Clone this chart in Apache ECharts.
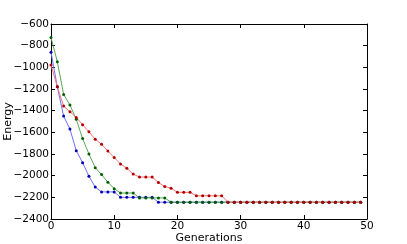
<!DOCTYPE html>
<html><head><meta charset="utf-8">
<script src="https://cdn.jsdelivr.net/npm/echarts@6/dist/echarts.min.js"></script>
<style>html,body{margin:0;padding:0;background:#fff}#c{width:407px;height:244px}</style>
</head><body><div id="c"></div>
<script>
const generations = Array.from({length: 50}, (_, i) => i);
const xTicks = [0, 10, 20, 30, 40, 50];
const yTicks = [-2400, -2200, -2000, -1800, -1600, -1400, -1200, -1000, -800, -600];
const blueSeries = [-860, -1180, -1450, -1570, -1770, -1880, -2005, -2105, -2150, -2150, -2150,
  -2200, -2200, -2200, -2200, -2200, -2200,
  -2245, -2245, -2245, -2245, -2245, -2245, -2245, -2245, -2245, -2245, -2245, -2245, -2245,
  -2245, -2245, -2245, -2245, -2245, -2245, -2245, -2245, -2245, -2245,
  -2245, -2245, -2245, -2245, -2245, -2245, -2245, -2245, -2245, -2245];
const greenSeries = [-725, -948, -1250, -1348, -1480, -1658, -1800, -1926, -1990, -2060, -2120,
  -2160, -2160, -2160, -2205, -2205, -2205, -2205, -2205,
  -2245, -2245, -2245, -2245, -2245, -2245, -2245, -2245, -2245, -2245, -2245,
  -2245, -2245, -2245, -2245, -2245, -2245, -2245, -2245, -2245, -2245,
  -2245, -2245, -2245, -2245, -2245, -2245, -2245, -2245, -2245, -2245];
const redSeries = [-978, -1180, -1357, -1410, -1463, -1530, -1595, -1664, -1710, -1772, -1833,
  -1892, -1932, -1985, -2013, -2013, -2013, -2063, -2100, -2115, -2154, -2154, -2154,
  -2186, -2186, -2186, -2186, -2186,
  -2245, -2245, -2245, -2245, -2245, -2245, -2245, -2245, -2245, -2245,
  -2245, -2245, -2245, -2245, -2245, -2245, -2245, -2245, -2245, -2245, -2245, -2245];

const font = 'DejaVu Sans';
function mk(name, vals, line, mark) {
  return {
    name, type: 'line', xAxisIndex: 0, yAxisIndex: 0,
    data: generations.map((g, i) => [g, vals[i]]),
    symbol: 'circle', symbolSize: 3, showSymbol: true,
    lineStyle: {color: line, width: 1},
    itemStyle: {color: mark, borderWidth: 0},
    animation: false, z: 3
  };
}
const chart = echarts.init(document.getElementById('c'));
const tickIn = {show: true, inside: true, length: 4, lineStyle: {color: '#000', width: 1}};
chart.setOption({
  backgroundColor: '#fff',
  animation: false,
  grid: {left: 51, right: 40, top: 24, bottom: 25, show: false, containLabel: false, outerBoundsMode: 'none'},
  xAxis: [
    {type: 'value', min: 0, max: 50, interval: 10, position: 'bottom',
     name: 'Generations', nameLocation: 'middle', nameGap: 14, nameMoveOverlap: false,
     nameTextStyle: {fontFamily: font, fontSize: 11, color: '#000'},
     axisLine: {show: true, onZero: false, lineStyle: {color: '#000', width: 1}},
     axisTick: tickIn, splitLine: {show: false},
     axisLabel: {fontFamily: font, fontSize: 10.5, color: '#000', margin: 2,
       formatter: v => xTicks.includes(v) ? String(v) : ''}},
    {type: 'value', min: 0, max: 50, interval: 10, position: 'top',
     axisLine: {show: true, onZero: false, lineStyle: {color: '#000', width: 1}},
     axisTick: tickIn, splitLine: {show: false}, axisLabel: {show: false}}
  ],
  yAxis: [
    {type: 'value', min: -2400, max: -600, interval: 200, position: 'left',
     name: 'Energy', nameLocation: 'middle', nameGap: 37, nameRotate: 90, nameMoveOverlap: false,
     nameTextStyle: {fontFamily: font, fontSize: 11, color: '#000'},
     axisLine: {show: true, onZero: false, lineStyle: {color: '#000', width: 1}},
     axisTick: tickIn, splitLine: {show: false},
     axisLabel: {fontFamily: font, fontSize: 10.5, color: '#000', margin: 2,
       formatter: v => yTicks.includes(v) ? String(v).replace('-', '\u2212') : ''}},
    {type: 'value', min: -2400, max: -600, interval: 200, position: 'right',
     axisLine: {show: true, onZero: false, lineStyle: {color: '#000', width: 1}},
     axisTick: tickIn, splitLine: {show: false}, axisLabel: {show: false}}
  ],
  series: [
    mk('blue', blueSeries, '#7070ff', '#0000b0'),
    mk('green', greenSeries, '#5aa65a', '#006000'),
    mk('red', redSeries, '#ff7070', '#b00000')
  ]
});
</script></body></html>
